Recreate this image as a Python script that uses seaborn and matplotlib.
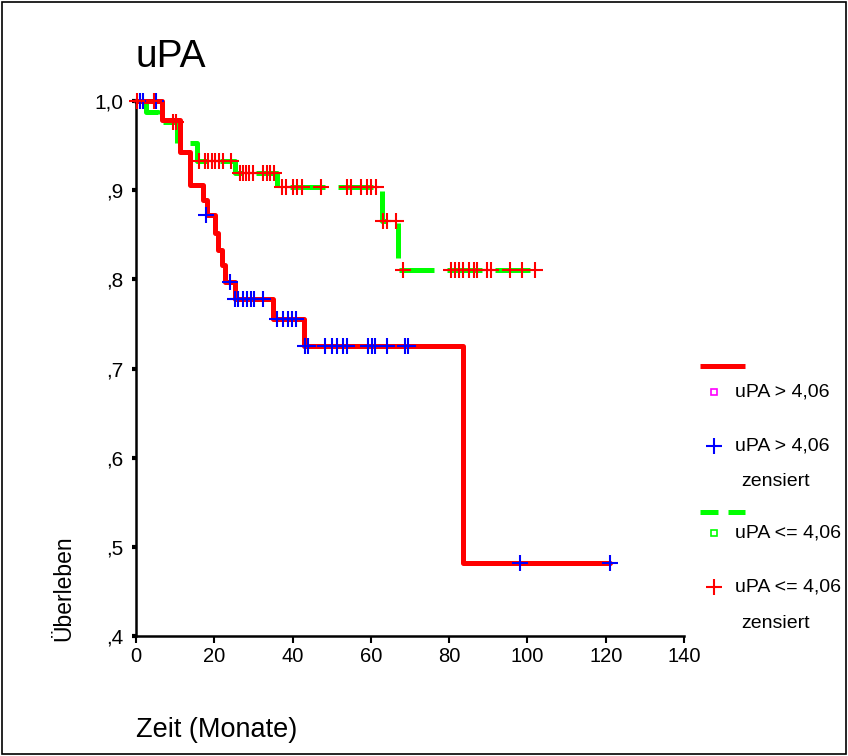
import matplotlib

matplotlib.use("Agg")

import matplotlib.pyplot as plt
import pandas as pd
import seaborn as sns
from matplotlib.lines import Line2D
from matplotlib.patches import Rectangle
from matplotlib.ticker import FixedFormatter, FixedLocator


# Kaplan-Meier steps (time in months, survival)
HIGH_TIME = [0, 6.6, 11.2, 13.8, 17.1, 18.1, 20.2, 21.0, 22.0, 22.7, 25.3, 35.0, 42.9, 83.5, 121.0]
HIGH_SURV = [1.0, 0.979, 0.943, 0.906, 0.889, 0.872, 0.852, 0.833, 0.816, 0.797, 0.778, 0.755, 0.725, 0.482, 0.482]

LOW_TIME = [0, 2.5, 5.6, 10.5, 15.5, 25.3, 36.0, 62.9, 67.0, 102.0]
LOW_SURV = [1.0, 0.988, 0.976, 0.953, 0.933, 0.919, 0.904, 0.865, 0.811, 0.811]

# censored cases
HIGH_CENS_TIME = [1.0, 1.8, 5.1, 18.0, 24.0,
                  25.3, 26.1, 27.3, 28.4, 29.4, 30.1, 32.4,
                  36.0, 37.6, 38.8, 39.9, 40.9,
                  43.2, 44.0, 48.3, 50.0, 51.3, 52.9, 53.9, 59.3, 60.3, 61.1, 64.1, 68.7, 69.5,
                  98.0, 121.0]
HIGH_CENS_SURV = [1.0, 1.0, 1.0, 0.872, 0.797,
                  0.778, 0.778, 0.778, 0.778, 0.778, 0.778, 0.778,
                  0.755, 0.755, 0.755, 0.755, 0.755,
                  0.725, 0.725, 0.725, 0.725, 0.725, 0.725, 0.725, 0.725, 0.725, 0.725, 0.725, 0.725, 0.725,
                  0.482, 0.482]

LOW_CENS_TIME = [0.2, 4.5, 9.5, 10.2,
                 16.0, 17.6, 18.4, 19.4, 20.2, 21.2, 22.2, 24.3,
                 26.6, 27.3, 28.1, 28.9, 29.9, 32.4, 33.5, 34.2, 35.3,
                 37.3, 38.3, 40.1, 41.1, 42.4, 47.3, 53.9, 54.9, 57.5, 59.0, 60.0, 61.3,
                 63.1, 64.1, 66.4,
                 68.2, 80.6, 81.6, 82.6, 83.6, 85.1, 86.4, 87.2, 89.7, 90.8, 95.5, 98.6, 101.9]
LOW_CENS_SURV = [1.0, 1.0, 0.976, 0.976,
                 0.933, 0.933, 0.933, 0.933, 0.933, 0.933, 0.933, 0.933,
                 0.919, 0.919, 0.919, 0.919, 0.919, 0.919, 0.919, 0.919, 0.919,
                 0.904, 0.904, 0.904, 0.904, 0.904, 0.904, 0.904, 0.904, 0.904, 0.904, 0.904, 0.904,
                 0.865, 0.865, 0.865,
                 0.811, 0.811, 0.811, 0.811, 0.811, 0.811, 0.811, 0.811, 0.811, 0.811, 0.811, 0.811, 0.811]

X_TICKS = [0, 20, 40, 60, 80, 100, 120, 140]
Y_TICKS = [0.4, 0.5, 0.6, 0.7, 0.8, 0.9, 1.0]
Y_TICK_LABELS = [",4", ",5", ",6", ",7", ",8", ",9", "1,0"]

LABEL_HIGH = "uPA > 4,06"
LABEL_LOW = "uPA <= 4,06"

FIG_W, FIG_H = 848, 756


def fig_xy(px: float, py: float) -> tuple[float, float]:
    return px / FIG_W, 1 - py / FIG_H


def draw_legend(fig: plt.Figure) -> None:
    tr = fig.transFigure
    text_kw = dict(fontsize=14, va="center", ha="left", transform=tr)

    x0, y0 = fig_xy(700, 366)
    x1, _ = fig_xy(745, 366)
    fig.add_artist(Line2D([x0, x1], [y0, y0], color="red", lw=3.6, transform=tr, solid_capstyle="butt"))

    mx, my = fig_xy(714, 392)
    fig.add_artist(Line2D([mx], [my], marker="s", ms=5, mfc="none", mec="#ff00ff", mew=1.2, transform=tr))
    fig.text(*fig_xy(735, 392), LABEL_HIGH, **text_kw)

    mx, my = fig_xy(714, 446)
    fig.add_artist(Line2D([mx], [my], marker="+", ms=11, mec="blue", mew=1.5, transform=tr))
    fig.text(*fig_xy(735, 446), LABEL_HIGH, **text_kw)
    fig.text(*fig_xy(741, 482), "zensiert", **text_kw)

    x0, y0 = fig_xy(700, 512)
    fig.add_artist(Line2D([x0, x1], [y0, y0], color="#00ff00", lw=3.6, transform=tr,
                          linestyle=(0, (3.6, 2.0)), dash_capstyle="butt"))

    mx, my = fig_xy(714, 533)
    fig.add_artist(Line2D([mx], [my], marker="s", ms=5, mfc="none", mec="#00ff00", mew=1.2, transform=tr))
    fig.text(*fig_xy(735, 533), LABEL_LOW, **text_kw)

    mx, my = fig_xy(714, 587)
    fig.add_artist(Line2D([mx], [my], marker="+", ms=11, mec="red", mew=1.5, transform=tr))
    fig.text(*fig_xy(735, 587), LABEL_LOW, **text_kw)
    fig.text(*fig_xy(741, 624), "zensiert", **text_kw)


def main() -> None:
    sns.set_theme(style="white")
    plt.rcParams["font.family"] = ["Liberation Sans", "DejaVu Sans"]
    plt.rcParams["text.color"] = "black"
    plt.rcParams["xtick.color"] = "black"
    plt.rcParams["ytick.color"] = "black"

    fig = plt.figure(figsize=(FIG_W / 100, FIG_H / 100), dpi=100)
    left, bottom = 136 / FIG_W, 1 - 636 / FIG_H
    ax = fig.add_axes([left, bottom, (684 - 136) / FIG_W, (636 - 101) / FIG_H])

    low = pd.DataFrame({"time": LOW_TIME, "surv": LOW_SURV})
    high = pd.DataFrame({"time": HIGH_TIME, "surv": HIGH_SURV})
    low_cens = pd.DataFrame({"time": LOW_CENS_TIME, "surv": LOW_CENS_SURV})
    high_cens = pd.DataFrame({"time": HIGH_CENS_TIME, "surv": HIGH_CENS_SURV})

    sns.lineplot(data=low, x="time", y="surv", ax=ax, color="#00ff00", lw=3.6,
                 linestyle=(0, (7, 2.6)), drawstyle="steps-post", estimator=None, sort=False,
                 legend=False, clip_on=False)
    sns.lineplot(data=high, x="time", y="surv", ax=ax, color="red", lw=3.6,
                 drawstyle="steps-post", estimator=None, sort=False, legend=False, clip_on=False)
    sns.scatterplot(data=high_cens, x="time", y="surv", ax=ax, marker="+", s=120,
                    color="blue", linewidth=1.5, legend=False, clip_on=False, zorder=4)
    sns.scatterplot(data=low_cens, x="time", y="surv", ax=ax, marker="+", s=120,
                    color="red", linewidth=1.5, legend=False, clip_on=False, zorder=4)

    ax.set_xlim(0, 140)
    ax.set_ylim(0.4, 1.0)
    ax.xaxis.set_major_locator(FixedLocator(X_TICKS))
    ax.yaxis.set_major_locator(FixedLocator(Y_TICKS))
    ax.yaxis.set_major_formatter(FixedFormatter(Y_TICK_LABELS))
    ax.tick_params(axis="x", which="major", direction="out", length=5, width=1.5,
                   color="black", labelcolor="black", labelsize=14.5, pad=3, bottom=True)
    ax.tick_params(axis="y", which="major", direction="out", length=3, width=3,
                   color="black", labelcolor="black", labelsize=15, pad=6, left=True)

    for side in ["top", "right"]:
        ax.spines[side].set_visible(False)
    for side in ["left", "bottom"]:
        ax.spines[side].set_color("black")
        ax.spines[side].set_linewidth(1.8)

    ax.set_xlabel("")
    ax.set_ylabel("")
    fig.text(*fig_xy(136, 57), "uPA", fontsize=28, ha="left", va="center", color="black")
    fig.text(*fig_xy(136, 730), "Zeit (Monate)", fontsize=19.5, ha="left", va="center", color="black")
    fig.text(*fig_xy(64, 641), "Überleben", fontsize=16.5, rotation=90, ha="center", va="bottom",
             color="black")

    draw_legend(fig)

    fig.add_artist(Rectangle((0.002, 0.002), 0.996, 0.996, transform=fig.transFigure,
                             fill=False, edgecolor="black", lw=1.2))

    fig.savefig("out.png", dpi=100)
    plt.close(fig)


if __name__ == "__main__":
    main()
